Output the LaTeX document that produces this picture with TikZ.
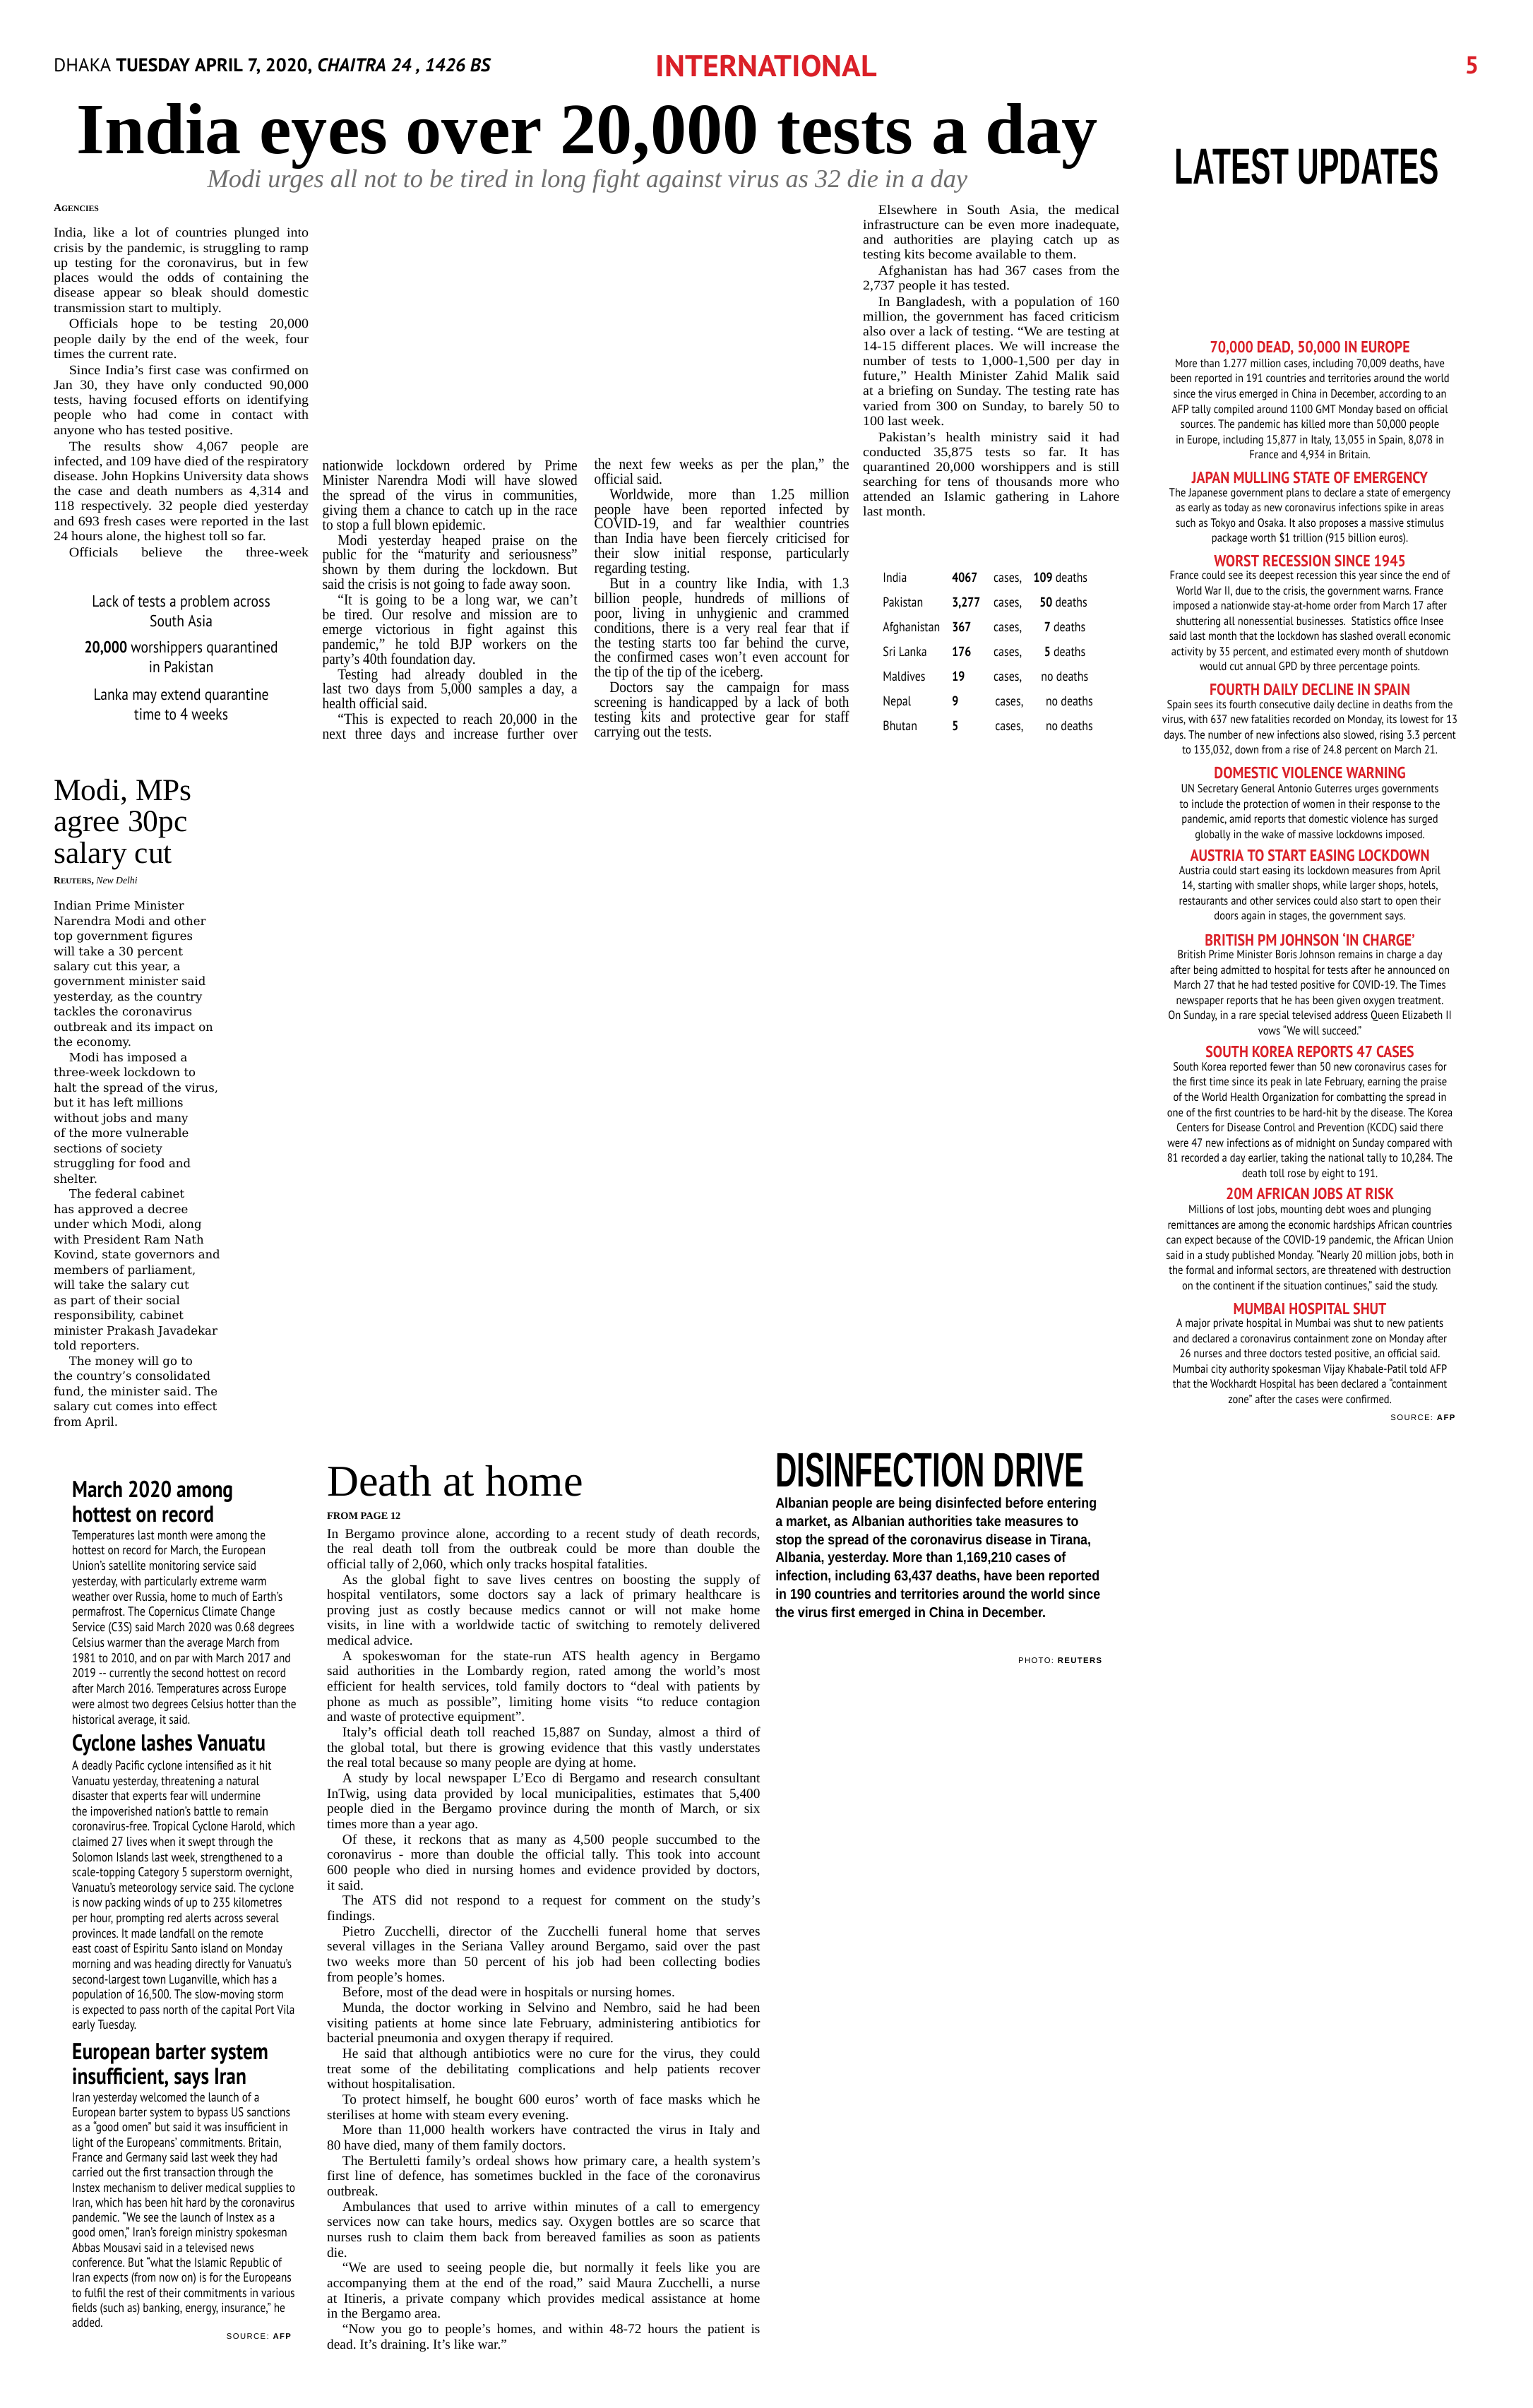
\documentclass[tikz,border=0pt]{standalone}
\usepackage{graphicx}
\usepackage{fontspec}
\setmainfont{Liberation Serif}
\newfontfamily\serifW[FakeStretch=1.07]{Liberation Serif}
\newfontfamily\serifN[FakeStretch=0.89]{Liberation Serif}
\newfontfamily\serifD{Liberation Serif}
\newfontfamily\dvserif{DejaVu Serif}
\newfontfamily\upfont[FakeStretch=0.87]{PT Sans}
\newfontfamily\csans[FakeStretch=0.84]{PT Sans}
\newfontfamily\qsans[FakeStretch=0.86]{PT Sans}
\newfontfamily\hsans{PT Sans}
\newfontfamily\capfont[FakeStretch=0.78]{Liberation Sans}
\newfontfamily\capB[FakeStretch=0.88]{Liberation Sans}
\newfontfamily\srcfont[LetterSpace=12]{Liberation Sans}
\frenchspacing
\definecolor{dsred}{RGB}{218,32,40}
\definecolor{subgrey}{RGB}{110,110,110}
\newlength\colw
\newlength\pgap
\newcommand\colset[3]{\colw=#1pt\relax\baselineskip=#2pt\relax\lineskiplimit=-20pt\relax\pgap=#3pt\relax}
\newcommand\JL[1]{\hbox to \colw{#1}}
\newcommand\FL[1]{\hbox to \colw{#1\hfil}}
\newcommand\CL[1]{\hbox to \colw{\hfil#1\hfil}}
\newcommand\IN{\hskip 10pt\relax}
\newcommand\PG{\vskip\pgap}
\newcommand\fA{\fontsize{8.6}{9.7}\serifW}
\newcommand\fN{\fontsize{10}{9.6}\serifN}
\newcommand\fD{\fontsize{8.9}{10}\serifD}
\newcommand\fM{\fontsize{7.6}{9.9}\dvserif}
\newcommand\fU{\fontsize{7.7}{9.9}\upfont}
\newcommand\fUH{\fontsize{10.5}{10.5}\upfont\bfseries}
\newcommand\fBL{\fontsize{8.4}{9.9}\csans}
\newcommand\fBH{\fontsize{15}{16}\csans\bfseries}
\newcommand\fT{\fontsize{8.7}{8.7}\csans}
\newcommand\fQ{\fontsize{10.5}{10.5}\qsans}
\tikzset{
  blk/.style={anchor=base west, inner sep=0pt, outer sep=0pt},
  blkc/.style={anchor=base, inner sep=0pt, outer sep=0pt},
  blke/.style={anchor=base east, inner sep=0pt, outer sep=0pt},
  uphead/.style={blkc, text=dsred, font=\fUH},
}
\begin{document}
\begin{tikzpicture}[x=1pt,y=-1pt]
\fill[white] (0,0) rectangle (998,1568);
\useasboundingbox (0,0) rectangle (998,1568);

% ---------- header ----------
\node[blk] (dateline) at (35,46.5) {\resizebox{285pt}{!}{\hsans DHAKA \textbf{TUESDAY APRIL 7, 2020,} \textit{\textbf{CHAITRA 24 , 1426 BS}}}};
\node[blk,text=dsred] (section) at (427,50) {\resizebox{144pt}{14pt}{\hsans\bfseries INTERNATIONAL}};
\node[blk,text=dsred] (pageno) at (954,48) {\fontsize{16}{16}\hsans\bfseries 5};
\node[blk] (headline) at (50,100) {\resizebox{665pt}{!}{\fontsize{47}{47}\selectfont\bfseries India eyes over 20,000 tests a day}};
\node[blk,text=subgrey] (subhead) at (135,122) {\resizebox{495pt}{!}{\fontsize{15}{15}\selectfont\itshape Modi urges all not to be tired in long fight against virus as 32 die in a day}};
\node[blk] (latest) at (765,120) {\resizebox{172pt}{23pt}{\fontsize{30}{30}\capfont\bfseries LATEST UPDATES}};

% ---------- column 1 ----------
\node[blk] (agencies) at (35,137.5) {\fontsize{7}{7}\selectfont\bfseries A\fontsize{5.4}{5.4}\selectfont GENCIES};
\node[blk] (colA) at (35,154.5) {\vtop{\fA\colset{166}{9.75}{0.8}%
\JL{India, like a lot of countries plunged into}
\JL{crisis by the pandemic, is struggling to ramp}
\JL{up testing for the coronavirus, but in few}
\JL{places would the odds of containing the}
\JL{disease appear so bleak should domestic}
\FL{transmission start to multiply.}\PG
\JL{\IN Officials hope to be testing 20,000}
\JL{people daily by the end of the week, four}
\FL{times the current rate.}\PG
\JL{\IN Since India’s first case was confirmed on}
\JL{Jan 30, they have only conducted 90,000}
\JL{tests, having focused efforts on identifying}
\JL{people who had come in contact with}
\FL{anyone who has tested positive.}\PG
\JL{\IN The results show 4,067 people are}
\JL{infected, and 109 have died of the respiratory}
\JL{disease. John Hopkins University data shows}
\JL{the case and death numbers as 4,314 and}
\JL{118 respectively. 32 people died yesterday}
\JL{and 693 fresh cases were reported in the last}
\FL{24 hours alone, the highest toll so far.}\PG
\JL{\IN Officials believe the three-week}
}};

% pull quotes
\node[blkc] (q1) at (118,395) {\vtop{\fQ\colset{170}{13}{0}%
\CL{Lack of tests a problem across}
\CL{South Asia}}};
\node[blkc] (q2) at (118,425) {\vtop{\fQ\colset{170}{13}{0}%
\CL{\textbf{20,000} worshippers quarantined}
\CL{in Pakistan}}};
\node[blkc] (q3) at (118,456) {\vtop{\fQ\colset{170}{13}{0}%
\CL{Lanka may extend quarantine}
\CL{time to 4 weeks}}};

% ---------- column 2 ----------
\node[blk] (colB) at (210,306.5) {\vtop{\fN\colset{166}{9.6}{0.5}%
\JL{nationwide lockdown ordered by Prime}
\JL{Minister Narendra Modi will have slowed}
\JL{the spread of the virus in communities,}
\JL{giving them a chance to catch up in the race}
\FL{to stop a full blown epidemic.}\PG
\JL{\IN Modi yesterday heaped praise on the}
\JL{public for the “maturity and seriousness”}
\JL{shown by them during the lockdown. But}
\FL{said the crisis is not going to fade away soon.}\PG
\JL{\IN “It is going to be a long war, we can’t}
\JL{be tired. Our resolve and mission are to}
\JL{emerge victorious in fight against this}
\JL{pandemic,” he told BJP workers on the}
\FL{party’s 40th foundation day.}\PG
\JL{\IN Testing had already doubled in the}
\JL{last two days from 5,000 samples a day, a}
\FL{health official said.}\PG
\JL{\IN “This is expected to reach 20,000 in the}
\JL{next three days and increase further over}
}};

% ---------- column 3 ----------
\node[blk] (colC) at (387,305.5) {\vtop{\fN\colset{166}{9.6}{0.5}%
\JL{the next few weeks as per the plan,” the}
\FL{official said.}\PG
\JL{\IN Worldwide, more than 1.25 million}
\JL{people have been reported infected by}
\JL{COVID-19, and far wealthier countries}
\JL{than India have been fiercely criticised for}
\JL{their slow initial response, particularly}
\FL{regarding testing.}\PG
\JL{\IN But in a country like India, with 1.3}
\JL{billion people, hundreds of millions of}
\JL{poor, living in unhygienic and crammed}
\JL{conditions, there is a very real fear that if}
\JL{the testing starts too far behind the curve,}
\JL{the confirmed cases won’t even account for}
\FL{the tip of the tip of the iceberg.}\PG
\JL{\IN Doctors say the campaign for mass}
\JL{screening is handicapped by a lack of both}
\JL{testing kits and protective gear for staff}
\FL{carrying out the tests.}
}};

% ---------- column 4 ----------
\node[blk] (colD) at (562,139.5) {\vtop{\fA\colset{167}{9.7}{0.8}%
\JL{\IN Elsewhere in South Asia, the medical}
\JL{infrastructure can be even more inadequate,}
\JL{and authorities are playing catch up as}
\FL{testing kits become available to them.}\PG
\JL{\IN Afghanistan has had 367 cases from the}
\FL{2,737 people it has tested.}\PG
\JL{\IN In Bangladesh, with a population of 160}
\JL{million, the government has faced criticism}
\JL{also over a lack of testing. “We are testing at}
\JL{14-15 different places. We will increase the}
\JL{number of tests to 1,000-1,500 per day in}
\JL{future,” Health Minister Zahid Malik said}
\JL{at a briefing on Sunday. The testing rate has}
\JL{varied from 300 on Sunday, to barely 50 to}
\FL{100 last week.}\PG
\JL{\IN Pakistan’s health ministry said it had}
\JL{conducted 35,875 tests so far. It has}
\JL{quarantined 20,000 worshippers and is still}
\JL{searching for tens of thousands more who}
\JL{attended an Islamic gathering in Lahore}
\FL{last month.}
}};

% ---------- table ----------
\foreach \nm/\cs/\dn/\dx/\cx [count=\i from 0] in {India/{4067}/{\textbf{109} deaths}/673/647, Pakistan/{3,277}/{\textbf{50} deaths}/677/647, Afghanistan/{367}/{\textbf{7} deaths}/680/647, Sri Lanka/{176}/{\textbf{5} deaths}/680/647, Maldives/{19}/{no deaths}/678/647, Nepal/{9}/{no deaths}/681/648, Bhutan/{5}/{no deaths}/681/648}{
  \node[blk] (tname\i) at (575,379+16.1*\i) {\fT \nm};
  \node[blk] (tcase\i) at (620,379+16.1*\i) {\fT\bfseries \cs};
  \node[blk] (tword\i) at (\cx,379+16.1*\i) {\fT cases,};
  \node[blk] (tdead\i) at (\dx,379+16.1*\i) {\fT \dn};
}

% ---------- latest updates ----------
\node[uphead] (uh1) at (853,229.8) {70,000 DEAD, 50,000 IN EUROPE};
\node[blkc] (ub1) at (853,239.3) {\vtop{\fU\colset{200}{9.9}{0}%
\CL{More than 1.277 million cases, including 70,009 deaths, have}
\CL{been reported in 191 countries and territories around the world}
\CL{since the virus emerged in China in December, according to an}
\CL{AFP tally compiled around 1100 GMT Monday based on official}
\CL{sources. The pandemic has killed more than 50,000 people}
\CL{in Europe, including 15,877 in Italy, 13,055 in Spain, 8,078 in}
\CL{France and 4,934 in Britain.}}};
\node[uphead] (uh2) at (853,314.8) {JAPAN MULLING STATE OF EMERGENCY};
\node[blkc] (ub2) at (853,323.3) {\vtop{\fU\colset{200}{9.9}{0}%
\CL{The Japanese government plans to declare a state of emergency}
\CL{as early as today as new coronavirus infections spike in areas}
\CL{such as Tokyo and Osaka. It also proposes a massive stimulus}
\CL{package worth \$1 trillion (915 billion euros).}}};
\node[uphead] (uh3) at (853,368.8) {WORST RECESSION SINCE 1945};
\node[blkc] (ub3) at (853,377.3) {\vtop{\fU\colset{200}{9.9}{0}%
\CL{France could see its deepest recession this year since the end of}
\CL{World War II, due to the crisis, the government warns. France}
\CL{imposed a nationwide stay-at-home order from March 17 after}
\CL{shuttering all nonessential businesses.\ \ Statistics office Insee}
\CL{said last month that the lockdown has slashed overall economic}
\CL{activity by 35 percent, and estimated every month of shutdown}
\CL{would cut annual GPD by three percentage points.}}};
\node[uphead] (uh4) at (853,452.8) {FOURTH DAILY DECLINE IN SPAIN};
\node[blkc] (ub4) at (853,461.3) {\vtop{\fU\colset{200}{9.9}{0}%
\CL{Spain sees its fourth consecutive daily decline in deaths from the}
\CL{virus, with 637 new fatalities recorded on Monday, its lowest for 13}
\CL{days. The number of new infections also slowed, rising 3.3 percent}
\CL{to 135,032, down from a rise of 24.8 percent on March 21.}}};
\node[uphead] (uh5) at (853,506.8) {DOMESTIC VIOLENCE WARNING};
\node[blkc] (ub5) at (853,516.3) {\vtop{\fU\colset{200}{9.9}{0}%
\CL{UN Secretary General Antonio Guterres urges governments}
\CL{to include the protection of women in their response to the}
\CL{pandemic, amid reports that domestic violence has surged}
\CL{globally in the wake of massive lockdowns imposed.}}};
\node[uphead] (uh6) at (853,560.8) {AUSTRIA TO START EASING LOCKDOWN};
\node[blkc] (ub6) at (853,569.3) {\vtop{\fU\colset{200}{9.9}{0}%
\CL{Austria could start easing its lockdown measures from April}
\CL{14, starting with smaller shops, while larger shops, hotels,}
\CL{restaurants and other services could also start to open their}
\CL{doors again in stages, the government says.}}};
\node[uphead] (uh7) at (853,615.8) {BRITISH PM JOHNSON ‘IN CHARGE’};
\node[blkc] (ub7) at (853,624.3) {\vtop{\fU\colset{200}{9.9}{0}%
\CL{British Prime Minister Boris Johnson remains in charge a day}
\CL{after being admitted to hospital for tests after he announced on}
\CL{March 27 that he had tested positive for COVID-19. The Times}
\CL{newspaper reports that he has been given oxygen treatment.}
\CL{On Sunday, in a rare special televised address Queen Elizabeth II}
\CL{vows “We will succeed.”}}};
\node[uphead] (uh8) at (853,688.8) {SOUTH KOREA REPORTS 47 CASES};
\node[blkc] (ub8) at (853,697.3) {\vtop{\fU\colset{200}{9.9}{0}%
\CL{South Korea reported fewer than 50 new coronavirus cases for}
\CL{the first time since its peak in late February, earning the praise}
\CL{of the World Health Organization for combatting the spread in}
\CL{one of the first countries to be hard-hit by the disease. The Korea}
\CL{Centers for Disease Control and Prevention (KCDC) said there}
\CL{were 47 new infections as of midnight on Sunday compared with}
\CL{81 recorded a day earlier, taking the national tally to 10,284. The}
\CL{death toll rose by eight to 191.}}};
\node[uphead] (uh9) at (853,780.8) {20M AFRICAN JOBS AT RISK};
\node[blkc] (ub9) at (853,790.3) {\vtop{\fU\colset{200}{9.9}{0}%
\CL{Millions of lost jobs, mounting debt woes and plunging}
\CL{remittances are among the economic hardships African countries}
\CL{can expect because of the COVID-19 pandemic, the African Union}
\CL{said in a study published Monday. “Nearly 20 million jobs, both in}
\CL{the formal and informal sectors, are threatened with destruction}
\CL{on the continent if the situation continues,” said the study.}}};
\node[uphead] (uh10) at (853,855.8) {MUMBAI HOSPITAL SHUT};
\node[blkc] (ub10) at (853,864.3) {\vtop{\fU\colset{200}{9.9}{0}%
\CL{A major private hospital in Mumbai was shut to new patients}
\CL{and declared a coronavirus containment zone on Monday after}
\CL{26 nurses and three doctors tested positive, an official said.}
\CL{Mumbai city authority spokesman Vijay Khabale-Patil told AFP}
\CL{that the Wockhardt Hospital has been declared a “containment}
\CL{zone” after the cases were confirmed.}}};
\node[blke] (usrc) at (948,925) {\fontsize{5.2}{5.2}\srcfont SOURCE: \textbf{AFP}};

% ---------- Modi block ----------
\node[blk] (modi1) at (35,521) {\fontsize{20}{20}\serifD Modi, MPs};
\node[blk] (modi2) at (35,541.5) {\fontsize{20}{20}\serifD agree 30pc};
\node[blk] (modi3) at (35,562) {\fontsize{20}{20}\serifD salary cut};
\node[blk] (modiby) at (35,575.5) {\fontsize{6.3}{6.3}\selectfont\bfseries R\fontsize{5}{5}\selectfont EUTERS\fontsize{6.3}{6.3}\selectfont, \mdseries\itshape New Delhi};
\node[blk] (modibody) at (35,592.5) {\vtop{\fM\colset{160}{9.88}{0}%
\FL{Indian Prime Minister}
\FL{Narendra Modi and other}
\FL{top government figures}
\FL{will take a 30 percent}
\FL{salary cut this year, a}
\FL{government minister said}
\FL{yesterday, as the country}
\FL{tackles the coronavirus}
\FL{outbreak and its impact on}
\FL{the economy.}
\FL{\IN Modi has imposed a}
\FL{three-week lockdown to}
\FL{halt the spread of the virus,}
\FL{but it has left millions}
\FL{without jobs and many}
\FL{of the more vulnerable}
\FL{sections of society}
\FL{struggling for food and}
\FL{shelter.}
\FL{\IN The federal cabinet}
\FL{has approved a decree}
\FL{under which Modi, along}
\FL{with President Ram Nath}
\FL{Kovind, state governors and}
\FL{members of parliament,}
\FL{will take the salary cut}
\FL{as part of their social}
\FL{responsibility, cabinet}
\FL{minister Prakash Javadekar}
\FL{told reporters.}
\FL{\IN The money will go to}
\FL{the country’s consolidated}
\FL{fund, the minister said. The}
\FL{salary cut comes into effect}
\FL{from April.}
}};

% ---------- bottom-left briefs ----------
\node[blk] (bh1a) at (47,975) {\fBH March 2020 among};
\node[blk] (bh1b) at (47,991) {\fBH hottest on record};
\node[blk] (bb1) at (47,1002.5) {\vtop{\fBL\colset{150}{10}{0}%
\FL{Temperatures last month were among the}
\FL{hottest on record for March, the European}
\FL{Union’s satellite monitoring service said}
\FL{yesterday, with particularly extreme warm}
\FL{weather over Russia, home to much of Earth’s}
\FL{permafrost. The Copernicus Climate Change}
\FL{Service (C3S) said March 2020 was 0.68 degrees}
\FL{Celsius warmer than the average March from}
\FL{1981 to 2010, and on par with March 2017 and}
\FL{2019 {-}{-} currently the second hottest on record}
\FL{after March 2016. Temperatures across Europe}
\FL{were almost two degrees Celsius hotter than the}
\FL{historical average, it said.}
}};
\node[blk] (bh2) at (47,1140) {\fBH Cyclone lashes Vanuatu};
\node[blk] (bb2) at (47,1152.5) {\vtop{\fBL\colset{150}{9.94}{0}%
\FL{A deadly Pacific cyclone intensified as it hit}
\FL{Vanuatu yesterday, threatening a natural}
\FL{disaster that experts fear will undermine}
\FL{the impoverished nation’s battle to remain}
\FL{coronavirus-free. Tropical Cyclone Harold, which}
\FL{claimed 27 lives when it swept through the}
\FL{Solomon Islands last week, strengthened to a}
\FL{scale-topping Category 5 superstorm overnight,}
\FL{Vanuatu’s meteorology service said. The cyclone}
\FL{is now packing winds of up to 235 kilometres}
\FL{per hour, prompting red alerts across several}
\FL{provinces. It made landfall on the remote}
\FL{east coast of Espiritu Santo island on Monday}
\FL{morning and was heading directly for Vanuatu’s}
\FL{second-largest town Luganville, which has a}
\FL{population of 16,500. The slow-moving storm}
\FL{is expected to pass north of the capital Port Vila}
\FL{early Tuesday.}
}};
\node[blk] (bh3a) at (47,1341) {\fBH European barter system};
\node[blk] (bh3b) at (47,1357) {\fBH insufficient, says Iran};
\node[blk] (bb3) at (47,1368.5) {\vtop{\fBL\colset{150}{9.8}{0}%
\FL{Iran yesterday welcomed the launch of a}
\FL{European barter system to bypass US sanctions}
\FL{as a “good omen” but said it was insufficient in}
\FL{light of the Europeans’ commitments. Britain,}
\FL{France and Germany said last week they had}
\FL{carried out the first transaction through the}
\FL{Instex mechanism to deliver medical supplies to}
\FL{Iran, which has been hit hard by the coronavirus}
\FL{pandemic. “We see the launch of Instex as a}
\FL{good omen,” Iran’s foreign ministry spokesman}
\FL{Abbas Mousavi said in a televised news}
\FL{conference. But “what the Islamic Republic of}
\FL{Iran expects (from now on) is for the Europeans}
\FL{to fulfil the rest of their commitments in various}
\FL{fields (such as) banking, energy, insurance,” he}
\FL{added.}
}};
\node[blke] (bsrc) at (190,1523) {\fontsize{5.2}{5.2}\srcfont SOURCE: \textbf{AFP}};

% ---------- Death at home ----------
\node[blk] (dtitle) at (213,974) {\fontsize{28.6}{30}\serifD Death at home};
\node[blk] (dfrom) at (213,989.5) {\fontsize{6.6}{6.6}\selectfont\bfseries FROM PAGE 12};
\node[blk] (dbody) at (213,1001.5) {\vtop{\fD\colset{282}{9.96}{0}%
\JL{In Bergamo province alone, according to a recent study of death records,}
\JL{the real death toll from the outbreak could be more than double the}
\FL{official tally of 2,060, which only tracks hospital fatalities.}
\JL{\IN As the global fight to save lives centres on boosting the supply of}
\JL{hospital ventilators, some doctors say a lack of primary healthcare is}
\JL{proving just as costly because medics cannot or will not make home}
\JL{visits, in line with a worldwide tactic of switching to remotely delivered}
\FL{medical advice.}
\JL{\IN A spokeswoman for the state-run ATS health agency in Bergamo}
\JL{said authorities in the Lombardy region, rated among the world’s most}
\JL{efficient for health services, told family doctors to “deal with patients by}
\JL{phone as much as possible”, limiting home visits “to reduce contagion}
\FL{and waste of protective equipment”.}
\JL{\IN Italy’s official death toll reached 15,887 on Sunday, almost a third of}
\JL{the global total, but there is growing evidence that this vastly understates}
\FL{the real total because so many people are dying at home.}
\JL{\IN A study by local newspaper L’Eco di Bergamo and research consultant}
\JL{InTwig, using data provided by local municipalities, estimates that 5,400}
\JL{people died in the Bergamo province during the month of March, or six}
\FL{times more than a year ago.}
\JL{\IN Of these, it reckons that as many as 4,500 people succumbed to the}
\JL{coronavirus - more than double the official tally. This took into account}
\JL{600 people who died in nursing homes and evidence provided by doctors,}
\FL{it said.}
\JL{\IN The ATS did not respond to a request for comment on the study’s}
\FL{findings.}
\JL{\IN Pietro Zucchelli, director of the Zucchelli funeral home that serves}
\JL{several villages in the Seriana Valley around Bergamo, said over the past}
\JL{two weeks more than 50 percent of his job had been collecting bodies}
\FL{from people’s homes.}
\FL{\IN Before, most of the dead were in hospitals or nursing homes.}
\JL{\IN Munda, the doctor working in Selvino and Nembro, said he had been}
\JL{visiting patients at home since late February, administering antibiotics for}
\FL{bacterial pneumonia and oxygen therapy if required.}
\JL{\IN He said that although antibiotics were no cure for the virus, they could}
\JL{treat some of the debilitating complications and help patients recover}
\FL{without hospitalisation.}
\JL{\IN To protect himself, he bought 600 euros’ worth of face masks which he}
\FL{sterilises at home with steam every evening.}
\JL{\IN More than 11,000 health workers have contracted the virus in Italy and}
\FL{80 have died, many of them family doctors.}
\JL{\IN The Bertuletti family’s ordeal shows how primary care, a health system’s}
\JL{first line of defence, has sometimes buckled in the face of the coronavirus}
\FL{outbreak.}
\JL{\IN Ambulances that used to arrive within minutes of a call to emergency}
\JL{services now can take hours, medics say. Oxygen bottles are so scarce that}
\JL{nurses rush to claim them back from bereaved families as soon as patients}
\FL{die.}
\JL{\IN “We are used to seeing people die, but normally it feels like you are}
\JL{accompanying them at the end of the road,” said Maura Zucchelli, a nurse}
\JL{at Itineris, a private company which provides medical assistance at home}
\FL{in the Bergamo area.}
\JL{\IN “Now you go to people’s homes, and within 48-72 hours the patient is}
\FL{dead. It’s draining. It’s like war.”}
}};

% ---------- Disinfection drive ----------
\node[blk] (distitle) at (505,968) {\resizebox{201pt}{22pt}{\capfont\bfseries DISINFECTION DRIVE}};
\node[blk] (discap) at (505,982) {\vtop{\fontsize{9.3}{11.9}\capB\bfseries\colset{230}{11.85}{0}%
\FL{Albanian people are being disinfected before entering}
\FL{a market, as Albanian authorities take measures to}
\FL{stop the spread of the coronavirus disease in Tirana,}
\FL{Albania, yesterday. More than 1,169,210 cases of}
\FL{infection, including 63,437 deaths, have been reported}
\FL{in 190 countries and territories around the world since}
\FL{the virus first emerged in China in December.}
}};
\node[blke] (photo) at (718,1083) {\fontsize{5.2}{5.2}\srcfont PHOTO: \textbf{REUTERS}};
\end{tikzpicture}
\end{document}
